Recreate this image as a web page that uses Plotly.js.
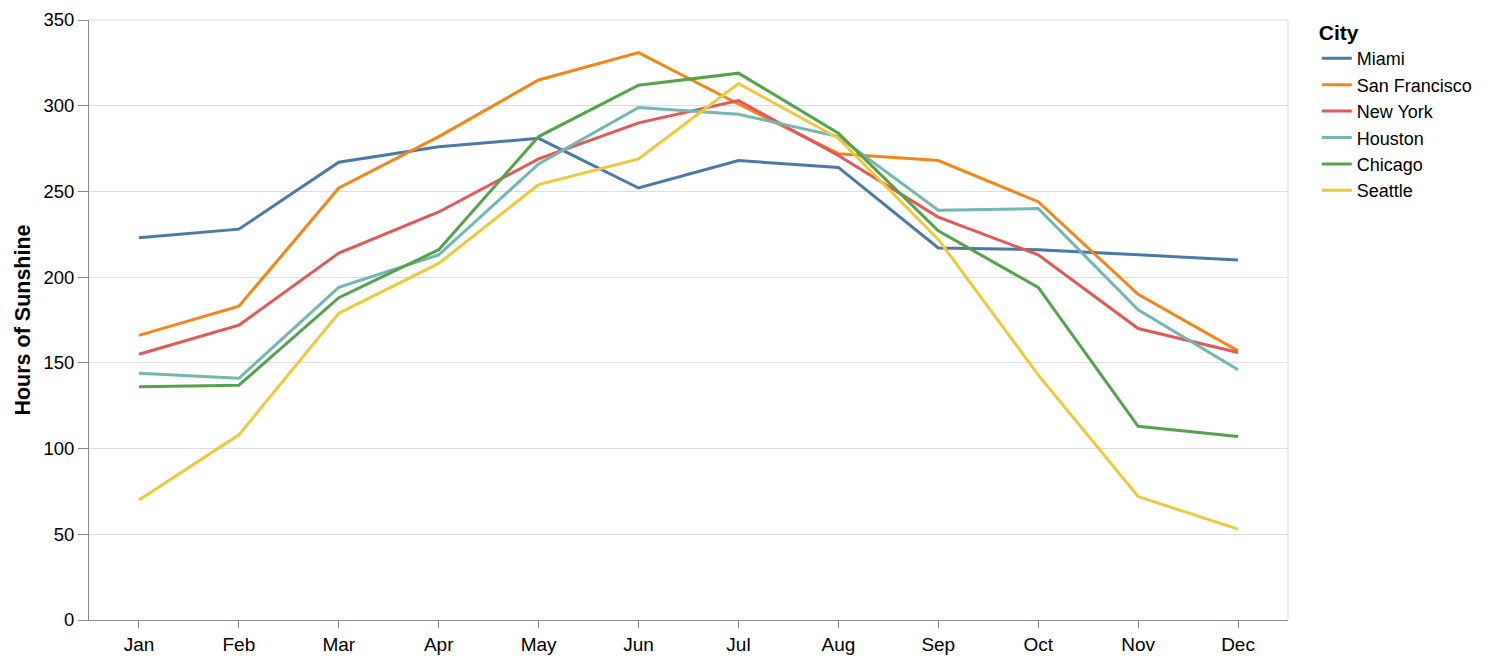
<!DOCTYPE html>
<html>
<head>
<meta charset="utf-8">
<script src="https://cdn.plot.ly/plotly-3.0.1.min.js"></script>
<style>html,body{margin:0;padding:0;background:#fff;}#chart{width:1494px;height:664px;}</style>
</head>
<body>
<div id="chart"></div>
<script>
const months = ["Jan","Feb","Mar","Apr","May","Jun","Jul","Aug","Sep","Oct","Nov","Dec"];
const cities = ["Miami","San Francisco","New York","Houston","Chicago","Seattle"];
const miami        = [223, 228, 267, 276, 281, 252, 268, 264, 217, 216, 213, 210];
const sanFrancisco = [166, 183, 252, 282, 315, 331, 301, 272, 268, 244, 190, 157];
const newYork      = [155, 172, 214, 238, 269, 290, 303, 271, 235, 213, 170, 156];
const houston      = [144, 141, 194, 213, 266, 299, 295, 282, 239, 240, 181, 146];
const chicago      = [136, 137, 188, 216, 282, 312, 319, 284, 227, 194, 113, 107];
const seattle      = [70, 108, 179, 208, 254, 269, 313, 281, 222, 143, 72, 53];
const seriesValues = [miami, sanFrancisco, newYork, houston, chicago, seattle];
const colors = ["#4c78a8","#f58518","#e45756","#72b7b2","#54a24b","#eeca3b"];
const yTicks = [0,50,100,150,200,250,300,350];

const font = "Liberation Sans, Arial, Helvetica, sans-serif";
const traces = cities.map((c, i) => ({
  type: "scatter", mode: "lines", name: c,
  x: months, y: seriesValues[i],
  line: {color: colors[i], width: 3},
  hoverinfo: "skip"
}));

const layout = {
  width: 1494, height: 664,
  margin: {l: 89, r: 206, t: 20, b: 44},
  paper_bgcolor: "#fff", plot_bgcolor: "#fff",
  font: {family: font, size: 18, color: "#000"},
  showlegend: true,
  legend: {
    title: {text: "<b>City</b>", font: {family: font, size: 21, color: "#000"}},
    font: {family: font, size: 18, color: "#000"},
    x: 1.024, xanchor: "left", y: 1.012, yanchor: "top",
    itemwidth: 30, tracegroupgap: 0, bgcolor: "rgba(0,0,0,0)"
  },
  xaxis: {
    type: "category", categoryorder: "array", categoryarray: months,
    range: [-0.5, 11.5], showgrid: false, zeroline: false,
    showline: true, linecolor: "#888", linewidth: 1,
    ticks: "outside", ticklen: 7, tickcolor: "#888", tickwidth: 1,
    tickfont: {family: font, size: 19, color: "#000"}
  },
  yaxis: {
    range: [0, 350], tickvals: yTicks, showgrid: true, gridcolor: "#ddd", gridwidth: 1,
    zeroline: false, showline: true, linecolor: "#888", linewidth: 1,
    ticks: "outside", ticklen: 10, tickcolor: "#888", tickwidth: 1,
    tickfont: {family: font, size: 18.5, color: "#000"},
    title: {text: "<b>Hours of Sunshine</b>", font: {family: font, size: 21.5, color: "#000"}, standoff: 6}
  },
  shapes: [
    {type: "line", xref: "paper", yref: "paper", x0: 0, x1: 1, y0: 1, y1: 1, line: {color: "#ddd", width: 1}, layer: "below"},
    {type: "line", xref: "paper", yref: "paper", x0: 1, x1: 1, y0: 0, y1: 1, line: {color: "#ddd", width: 1}, layer: "below"}
  ]
};

Plotly.newPlot("chart", traces, layout, {displayModeBar: false, staticPlot: true});
</script>
</body>
</html>
